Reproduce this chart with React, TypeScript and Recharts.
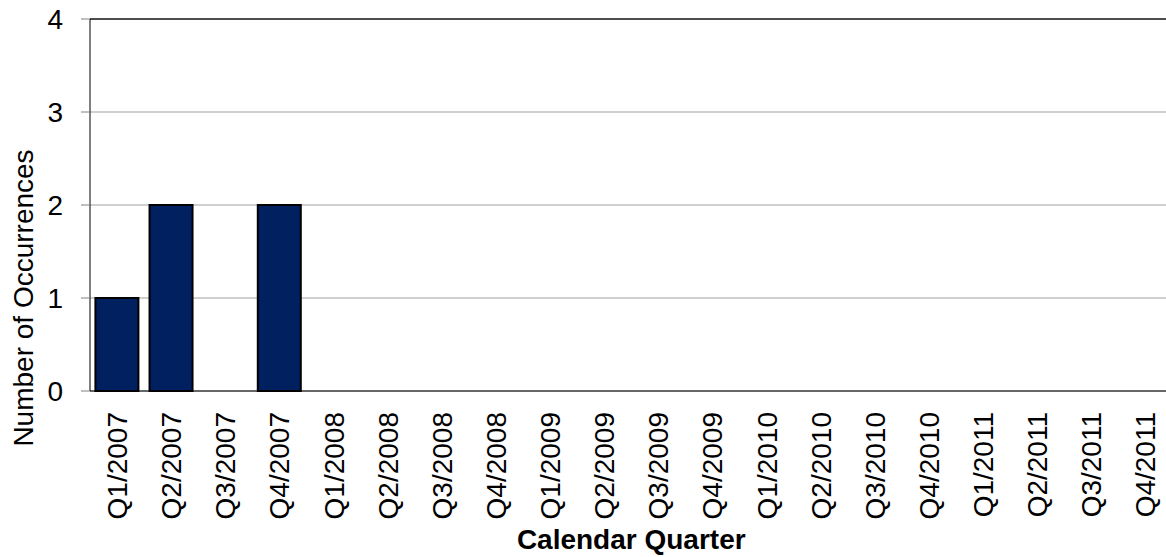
import React from 'react';
import { BarChart, Bar, XAxis, YAxis, CartesianGrid, ReferenceLine, Label } from 'recharts';

const quarters = [
  'Q1/2007', 'Q2/2007', 'Q3/2007', 'Q4/2007',
  'Q1/2008', 'Q2/2008', 'Q3/2008', 'Q4/2008',
  'Q1/2009', 'Q2/2009', 'Q3/2009', 'Q4/2009',
  'Q1/2010', 'Q2/2010', 'Q3/2010', 'Q4/2010',
  'Q1/2011', 'Q2/2011', 'Q3/2011', 'Q4/2011',
];
const occurrences = [1, 2, 0, 2, 0, 0, 0, 0, 0, 0, 0, 0, 0, 0, 0, 0, 0, 0, 0, 0];
const yTicks = [0, 1, 2, 3, 4];
const boundaryTicks = quarters.map((_, i) => i).concat([quarters.length]);

const data = quarters.map((quarter, i) => ({ quarter, count: occurrences[i] }));

const FONT = '"Liberation Sans", Arial, Helvetica, sans-serif';

const QuarterTick = (props: any) => {
  const { x, y, payload } = props;
  return (
    <g transform={`translate(${x},${y})`}>
      <text
        transform="rotate(-90)"
        textAnchor="end"
        dy="10"
        style={{ fontSize: '28px', fontFamily: FONT }}
        fill="#000"
      >
        {payload.value}
      </text>
    </g>
  );
};

const EmptyTick = () => <g />;

const YTitle = (props: any) => {
  const vb = props.viewBox || { x: 0, y: 19, width: 90, height: 372 };
  const cx = vb.x + 33;
  const cy = vb.y + vb.height * 0.75;
  return (
    <text
      transform={`translate(${cx},${cy}) rotate(-90)`}
      textAnchor="middle"
      style={{ fontSize: '28px', fontFamily: FONT }}
      fill="#000"
    >
      Number of Occurrences
    </text>
  );
};

const XTitle = (props: any) => {
  const vb = props.viewBox || { x: 90, y: 391, width: 1082, height: 166 };
  return (
    <text
      x={vb.x + vb.width / 2}
      y={vb.y + vb.height - 8}
      textAnchor="middle"
      style={{ fontSize: '28px', fontWeight: 'bold', fontFamily: FONT }}
      fill="#000"
    >
      Calendar Quarter
    </text>
  );
};

export default function App() {
  return (
    <div
      style={{
        position: 'absolute',
        left: 0,
        top: 0,
        width: 1166,
        height: 557,
        overflow: 'hidden',
        background: '#fff',
      }}
    >
      <BarChart
        width={1190}
        height={557}
        data={data}
        margin={{ top: 19, right: 17.5, bottom: 0, left: 0 }}
        barCategoryGap="10%"
      >
        <CartesianGrid vertical={false} stroke="#a0a0a0" strokeWidth={1} />
        <XAxis
          xAxisId="grid"
          type="number"
          domain={[0, quarters.length]}
          ticks={boundaryTicks}
          interval={0}
          height={0}
          axisLine={false}
          tickLine={{ stroke: '#808080' }}
          tickSize={8}
          tick={EmptyTick}
          allowDataOverflow
        />
        <XAxis
          dataKey="quarter"
          xAxisId="cat"
          type="category"
          interval={0}
          height={166}
          axisLine={{ stroke: '#000' }}
          tickLine={false}
          tickSize={8}
          tickMargin={13}
          tick={QuarterTick}
        >
          <Label content={XTitle} />
        </XAxis>
        <YAxis
          domain={[0, 4]}
          ticks={yTicks}
          interval={0}
          width={90}
          axisLine={{ stroke: '#000' }}
          tickLine={{ stroke: '#808080' }}
          tickSize={9}
          tickMargin={18}
          tick={{ fontSize: 28, fill: '#000', fontFamily: FONT }}
        >
          <Label content={YTitle} />
        </YAxis>
        <ReferenceLine y={4} xAxisId="cat" stroke="#222" strokeWidth={1.5} />
        <Bar
          dataKey="count"
          xAxisId="cat"
          fill="#002060"
          stroke="#000"
          strokeWidth={2}
          isAnimationActive={false}
        />
      </BarChart>
    </div>
  );
}
